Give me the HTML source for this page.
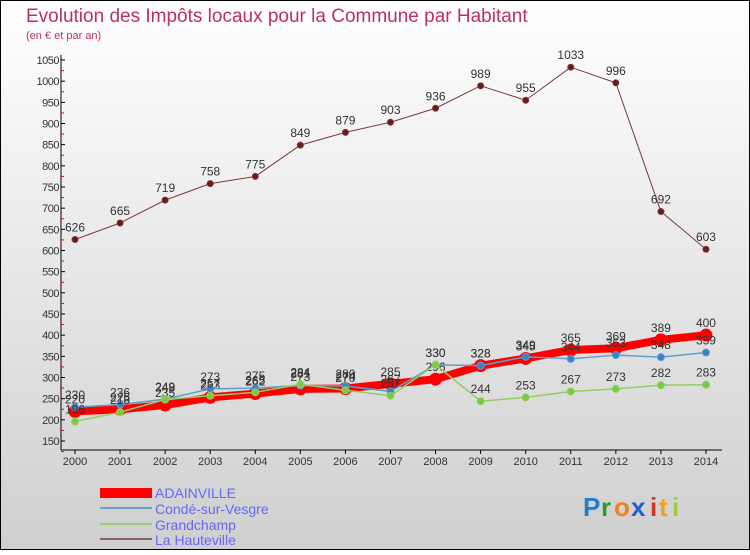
<!DOCTYPE html>
<html><head><meta charset="utf-8"><style>
body{margin:0;}
#c{width:750px;height:550px;position:relative;font-family:"Liberation Sans",sans-serif;}
</style></head><body>
<div id="c">
<svg id="s" width="750" height="550" xmlns="http://www.w3.org/2000/svg">
<defs><linearGradient id="bg" x1="0" y1="0" x2="0" y2="1"><stop offset="0" stop-color="#ffffff"/><stop offset="1" stop-color="#cfcfcf"/></linearGradient></defs>
<rect x="0.5" y="0.5" width="749" height="549" fill="url(#bg)" stroke="#000"/>
<text x="26" y="22" font-size="19" fill="#c0305a">Evolution des Impôts locaux pour la Commune par Habitant</text>
<text x="26" y="39" font-size="11" fill="#c0305a">(en € et par an)</text>
<g id="axes"></g><g id="series"></g>
<g>
<rect x="100" y="488" width="52" height="10" fill="#ff0000"/>
<text x="155" y="498" font-size="14" fill="#6666ff">ADAINVILLE</text>
<line x1="100" y1="508" x2="152" y2="508" stroke="#6a9fcc" stroke-width="2"/>
<text x="155" y="514" font-size="14" fill="#6666ff">Condé-sur-Vesgre</text>
<line x1="100" y1="524" x2="152" y2="524" stroke="#9ccf70" stroke-width="2"/>
<text x="155" y="530" font-size="14" fill="#6666ff">Grandchamp</text>
<line x1="100" y1="539" x2="152" y2="539" stroke="#8a6060" stroke-width="2"/>
<text x="155" y="545" font-size="14" fill="#6666ff">La Hauteville</text>
</g>
<g font-size="26" font-weight="bold">
<text x="583" y="516" fill="#1f7fcf">P</text><text x="601" y="516" fill="#2aa02a">r</text><text x="614" y="516" fill="#f07f1f">o</text><text x="631" y="516" fill="#1f5fcf">x</text><text x="650" y="516" fill="#e0301f">i</text><text x="659" y="516" fill="#f0a01f">t</text><text x="672" y="516" fill="#9acd32">i</text>
</g>
</svg></div>
<script>
const years=[2000,2001,2002,2003,2004,2005,2006,2007,2008,2009,2010,2011,2012,2013,2014];
const adainville=[220,225,235,253,262,273,274,285,296,328,345,365,369,389,400];
const conde=[230,236,249,273,275,281,280,267,330,328,349,344,353,348,359];
const grandchamp=[196,218,248,257,265,284,270,257,330,244,253,267,273,282,283];
const hauteville=[626,665,719,758,775,849,879,903,936,989,955,1033,996,692,603];
const yTicks=[150,200,250,300,350,400,450,500,550,600,650,700,750,800,850,900,950,1000,1050];
const NS="http://www.w3.org/2000/svg";
const X=i=>75+i*45.07, Y=v=>441-(v-150)*(381/900);
function mk(t,a,p){const e=document.createElementNS(NS,t);for(const k in a)e.setAttribute(k,a[k]);p.appendChild(e);return e;}
const ax=document.getElementById('axes'),sg=document.getElementById('series');
let l=mk('line',{x1:61,y1:55,x2:61,y2:450,stroke:'#000'},ax);


l=mk('line',{x1:61,y1:450,x2:722,y2:450,stroke:'#000'},ax);


yTicks.forEach(v=>{const y=Y(v);
 mk('line',{x1:61,y1:y,x2:65,y2:y,stroke:'#000'},ax);
 mk('line',{x1:61,y1:y+10.6,x2:64,y2:y+10.6,stroke:'#f00'},ax);
 const t=mk('text',{x:59,y:y+4,'font-size':11,fill:'#333','text-anchor':'end','letter-spacing':'-0.5'},ax);t.textContent=v;
 
 });
years.forEach((yr,i)=>{const x=X(i);mk('line',{x1:x,y1:450,x2:x,y2:454,stroke:'#000'},ax);
 const t=mk('text',{x:x,y:465,'font-size':11,fill:'#333','text-anchor':'middle'},ax);t.textContent=yr;
 
 });
function series(name,vals,col,w,r,dot){
 const g=mk('g',{},sg);
 
 
 const p=mk('polyline',{points:vals.map((v,i)=>X(i)+','+Y(v)).join(' '),fill:'none',stroke:col,'stroke-width':w,'stroke-linejoin':'round'},g);
 
 
 vals.forEach((v,i)=>{const c=mk('circle',{cx:X(i),cy:Y(v),r:r,fill:dot,stroke:col,'stroke-width':1},g);
  
  
  const t=mk('text',{x:X(i),y:Y(v)-8,'font-size':12,fill:'#333','text-anchor':'middle'},g);t.textContent=v;
  
  });
}
series('hauteville',hauteville,'#7a3a3a',1,3,'#6a1a1a');
series('adainville',adainville,'#ff0000',8,6,'#ff0000');
series('conde',conde,'#5a9fd0',1.5,3.5,'#3a80c8');
series('grandchamp',grandchamp,'#8fd060',1.5,3.5,'#7acc3a');
</script>
</body></html>
